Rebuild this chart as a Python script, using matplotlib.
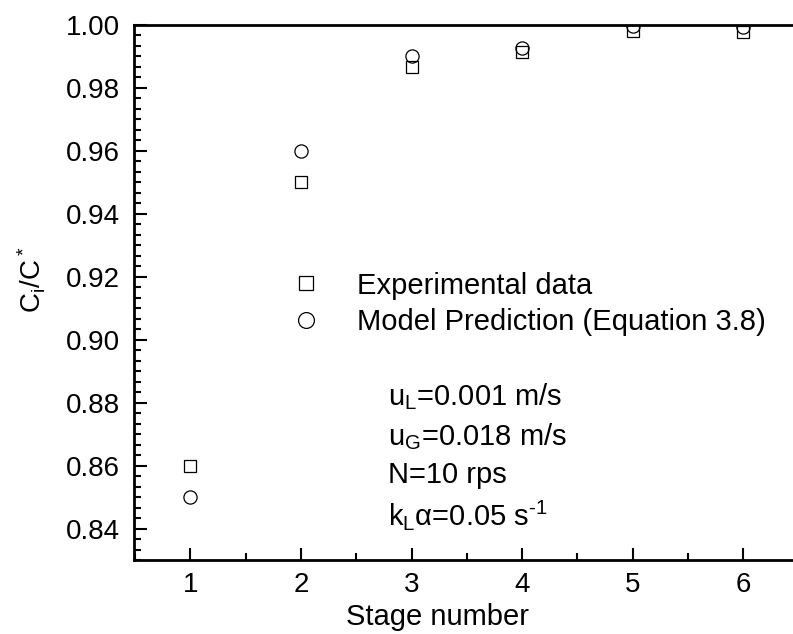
import matplotlib
matplotlib.use('Agg')
import matplotlib.pyplot as plt
from matplotlib.ticker import MultipleLocator, AutoMinorLocator, FormatStrFormatter

plt.rcParams['font.family'] = ['Liberation Sans', 'DejaVu Sans']
plt.rcParams['mathtext.default'] = 'regular'

# data
stages = [1, 2, 3, 4, 5, 6]
experimental = [0.860, 0.950, 0.9865, 0.9915, 0.9982, 0.9978]
model = [0.850, 0.960, 0.9900, 0.9926, 0.9997, 0.9995]
conditions = [r'u$_L$=0.001 m/s', r'u$_G$=0.018 m/s', 'N=10 rps',
              r'k$_L$α=0.05 s$^{‐1}$']

fig = plt.figure(figsize=(7.93, 6.34), dpi=100)
ax = fig.add_axes([134 / 793, 1 - 560 / 634, 1 - 134 / 793, (560 - 25) / 634])

ax.plot(stages, experimental, ls='none', marker='s', ms=8.0, mfc='white',
        mec='black', mew=0.9, label='Experimental data')
ax.plot(stages, model, ls='none', marker='o', ms=9.5, mfc='none',
        mec='black', mew=0.9, label='Model Prediction (Equation 3.8)')

ax.set_xlim(0.49, 6.45)
ax.set_ylim(0.83, 1.0)
ax.xaxis.set_major_locator(MultipleLocator(1))
ax.xaxis.set_minor_locator(MultipleLocator(0.5))
ax.yaxis.set_major_locator(MultipleLocator(0.02))
ax.yaxis.set_minor_locator(AutoMinorLocator(6))
ax.yaxis.set_major_formatter(FormatStrFormatter('%.2f'))

ax.tick_params(which='both', direction='in', width=1.5, labelsize=20,
               top=False, right=False)
ax.tick_params(which='major', length=9)
ax.tick_params(axis='y', which='major', pad=10)
ax.tick_params(axis='x', which='major', pad=9)
ax.tick_params(which='minor', length=5)
ax.spines['right'].set_visible(False)
for s in ['left', 'bottom', 'top']:
    ax.spines[s].set_linewidth(2)

ax.set_xlabel('Stage number', fontsize=21)
ax.xaxis.set_label_coords(0.46, -0.08)
ax.set_ylabel(r'C$_i$/C$^*$', fontsize=20)
ax.yaxis.set_label_coords(-0.13, 0.523)

ax.legend(loc='center left', bbox_to_anchor=(0.2216, 0.4785), frameon=False,
          fontsize=21, handlelength=1.0, handletextpad=1.25, markerscale=1.2,
          labelspacing=0.3, borderaxespad=0, borderpad=0.4)

baselines = [0.2897, 0.2150, 0.1439, 0.0654]
for t, yb in zip(conditions, baselines):
    ax.text(0.3854, yb, t, transform=ax.transAxes, fontsize=21,
            va='baseline', ha='left')

fig.savefig('out.png', dpi=100)
